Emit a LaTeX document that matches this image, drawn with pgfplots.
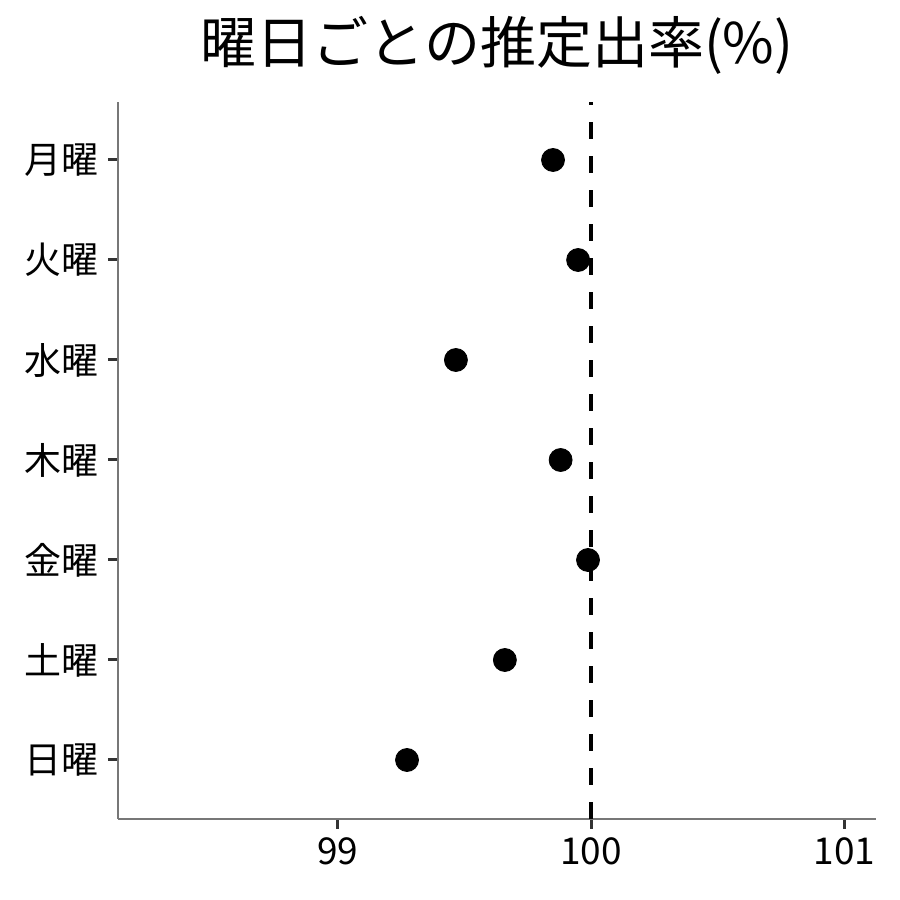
\documentclass[border=0pt]{standalone}
\usepackage{fontspec}
\setmainfont{Noto Sans CJK JP}
\usepackage{pgfplots}
\pgfplotsset{compat=1.18}

\definecolor{axisgray}{HTML}{777777}
\definecolor{tickgray}{HTML}{333333}

\begin{document}
\begin{tikzpicture}
\useasboundingbox (0pt,0pt) rectangle (450pt,450pt);
\begin{axis}[
    at={(59pt,40.5pt)}, anchor=south west,
    scale only axis,
    width=379pt, height=358.5pt,
    xmin=98.134, xmax=101.124,
    ymin=-0.59, ymax=6.58,
    axis x line*=bottom, axis y line*=left,
    axis line style={axisgray, line width=0.7pt, -},
    xtick={99,100,101},
    ytick={0,1,2,3,4,5,6},
    yticklabels={日曜,土曜,金曜,木曜,水曜,火曜,月曜},
    tick align=outside,
    major tick length=5pt,
    tick style={tickgray, line width=1.5pt},
    tick label style={font=\fontsize{18.5}{20}\selectfont, black},
    /pgf/number format/assume math mode=true,
    xticklabel style={yshift=-1pt},
    yticklabel style={xshift=-1pt},
    title={曜日ごとの推定出率(\%)},
    title style={font=\fontsize{28}{30}\selectfont, yshift=4pt},
    clip=false,
]
\addplot[black, line width=2pt, dash pattern=on 8.5pt off 8.5pt, forget plot]
    coordinates {(100,-0.59) (100,6.58)};
\addplot[only marks, mark=*, mark size=5.75pt, black] coordinates {
    (99.850,6)
    (99.949,5)
    (99.467,4)
    (99.880,3)
    (99.988,2)
    (99.660,1)
    (99.274,0)
};
\end{axis}
\end{tikzpicture}
\end{document}
